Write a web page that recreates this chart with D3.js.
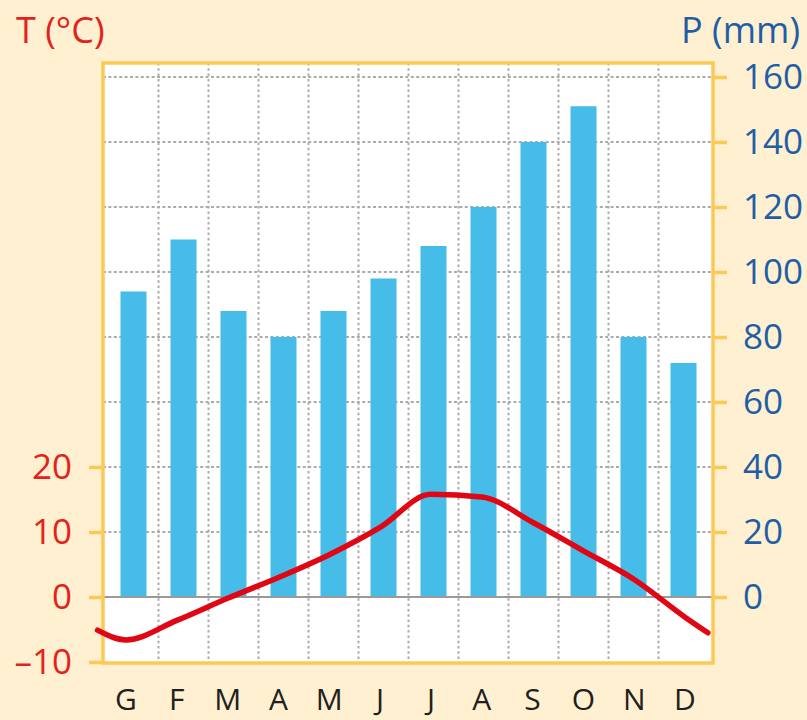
<!DOCTYPE html>
<html>
<head>
<meta charset="utf-8">
<script src="https://cdn.jsdelivr.net/npm/d3@7/dist/d3.min.js"></script>
<style>
  html, body { margin: 0; padding: 0; background: #fef0d0; }
  svg { display: block; }
  text { font-family: "Open Sans", sans-serif; }
</style>
</head>
<body>
<svg id="chart" width="807" height="720"></svg>
<script>
// ---- data ----
const months = ["G", "F", "M", "A", "M", "J", "J", "A", "S", "O", "N", "D"];
const precipitation = [94, 110, 88, 80, 88, 98, 108, 120, 140, 151, 80, 72];
const temperature = [-6.6, -3.6, -0.2, 3.0, 6.5, 10.7, 15.8, 15.4, 11.5, 7.1, 2.7, -3.1];
const tempLineStart = -5.1;   // where the curve enters at the left edge
const tempLineEnd = -5.5;     // where the curve leaves at the right edge
const tempTicks = [-10, 0, 10, 20];
const precTicks = [0, 20, 40, 60, 80, 100, 120, 140, 160];
const tempTitle = "T (°C)";
const precTitle = "P (mm)";

// ---- layout ----
const W = 807, H = 720;
const plot = { left: 103, right: 713, top: 63, bottom: 663 };
const COL = {
  bg: "#fef0d0", frame: "#fdc955", bar: "#45bde8", line: "#e00613",
  red: "#e3231b", blue: "#1f5ea6", grid: "#ababab", zero: "#9a9a9a", text: "#231f20"
};

const svg = d3.select("#chart");
svg.append("rect").attr("width", W).attr("height", H).attr("fill", COL.bg);
svg.append("rect")
  .attr("x", plot.left).attr("y", plot.top)
  .attr("width", plot.right - plot.left).attr("height", plot.bottom - plot.top)
  .attr("fill", "#ffffff");

const idx = d3.range(months.length);
const xBand = d3.scaleBand().domain(idx).range([108.5, 708.5]).paddingInner(0.48).paddingOuter(0.24);
const xLab = d3.scaleLinear().domain([0, 11]).range([126, 685]);
const yP = d3.scaleLinear().domain([0, 160]).range([597, 77]);
const yT = d3.scaleLinear().domain([-10, 20]).range([662, 467]);

// ---- grid ----
const grid = svg.append("g");
const gap = xBand.step() * xBand.paddingInner() / 2;
grid.selectAll("line.v").data(idx.slice(1)).join("line")
  .attr("class", "v")
  .attr("x1", d => xBand(d) - gap).attr("x2", d => xBand(d) - gap)
  .attr("y1", plot.top).attr("y2", plot.bottom)
  .attr("stroke", COL.grid).attr("stroke-width", 2).attr("stroke-dasharray", "2.5,2.8");
grid.selectAll("line.h").data(precTicks.filter(d => d > 0)).join("line")
  .attr("class", "h")
  .attr("x1", plot.left).attr("x2", plot.right)
  .attr("y1", d => yP(d)).attr("y2", d => yP(d))
  .attr("stroke", COL.grid).attr("stroke-width", 2).attr("stroke-dasharray", "3,2.4");

// ---- bars ----
svg.append("g").selectAll("rect").data(precipitation).join("rect")
  .attr("x", (d, i) => xBand(i))
  .attr("width", xBand.bandwidth())
  .attr("y", d => yP(d))
  .attr("height", d => yP(0) - yP(d))
  .attr("fill", COL.bar);

// zero line
svg.append("line")
  .attr("x1", plot.left).attr("x2", plot.right)
  .attr("y1", yT(0)).attr("y2", yT(0))
  .attr("stroke", COL.zero).attr("stroke-width", 2);

// ---- frame ----
svg.append("rect")
  .attr("x", plot.left).attr("y", plot.top)
  .attr("width", plot.right - plot.left).attr("height", plot.bottom - plot.top)
  .attr("fill", "none").attr("stroke", COL.frame).attr("stroke-width", 3.5);

// ---- temperature line ----
const linePts = [{ i: -0.56, t: tempLineStart }]
  .concat(temperature.map((t, i) => ({ i, t })))
  .concat([{ i: 11.45, t: tempLineEnd }]);
svg.append("path")
  .datum(linePts)
  .attr("fill", "none").attr("stroke", COL.line).attr("stroke-width", 5.5)
  .attr("stroke-linejoin", "round").attr("stroke-linecap", "round")
  .attr("d", d3.line().x(d => xLab(d.i)).y(d => yT(d.t)).curve(d3.curveMonotoneX));

// ---- axes ----
const axL = svg.append("g").attr("transform", `translate(${plot.left},0)`)
  .call(d3.axisLeft(yT).tickValues(tempTicks).tickSize(14).tickPadding(17)
    .tickFormat(d => d < 0 ? "\u2013" + Math.abs(d) : d));
axL.select(".domain").remove();
axL.selectAll(".tick line").attr("stroke", COL.frame).attr("stroke-width", 3.5);
axL.selectAll(".tick text").attr("fill", COL.red).attr("font-size", 35)
  .attr("font-family", "'Open Sans', sans-serif");

const axR = svg.append("g").attr("transform", `translate(${plot.right},0)`)
  .call(d3.axisRight(yP).tickValues(precTicks).tickSize(14).tickPadding(16));
axR.select(".domain").remove();
axR.selectAll(".tick line").attr("stroke", COL.frame).attr("stroke-width", 3.5);
axR.selectAll(".tick text").attr("fill", COL.blue).attr("font-size", 35)
  .attr("font-family", "'Open Sans', sans-serif");

// month labels
svg.append("g").selectAll("text").data(months).join("text")
  .attr("x", (d, i) => xLab(i)).attr("y", 710)
  .attr("text-anchor", "middle").attr("font-size", 30)
  .attr("fill", COL.text).text(d => d);

// titles
svg.append("text").attr("x", 16).attr("y", 43).attr("font-size", 36)
  .attr("fill", COL.red).text(tempTitle);
svg.append("text").attr("x", 800).attr("y", 43).attr("font-size", 36)
  .attr("text-anchor", "end").attr("fill", COL.blue).text(precTitle);
</script>
</body>
</html>
